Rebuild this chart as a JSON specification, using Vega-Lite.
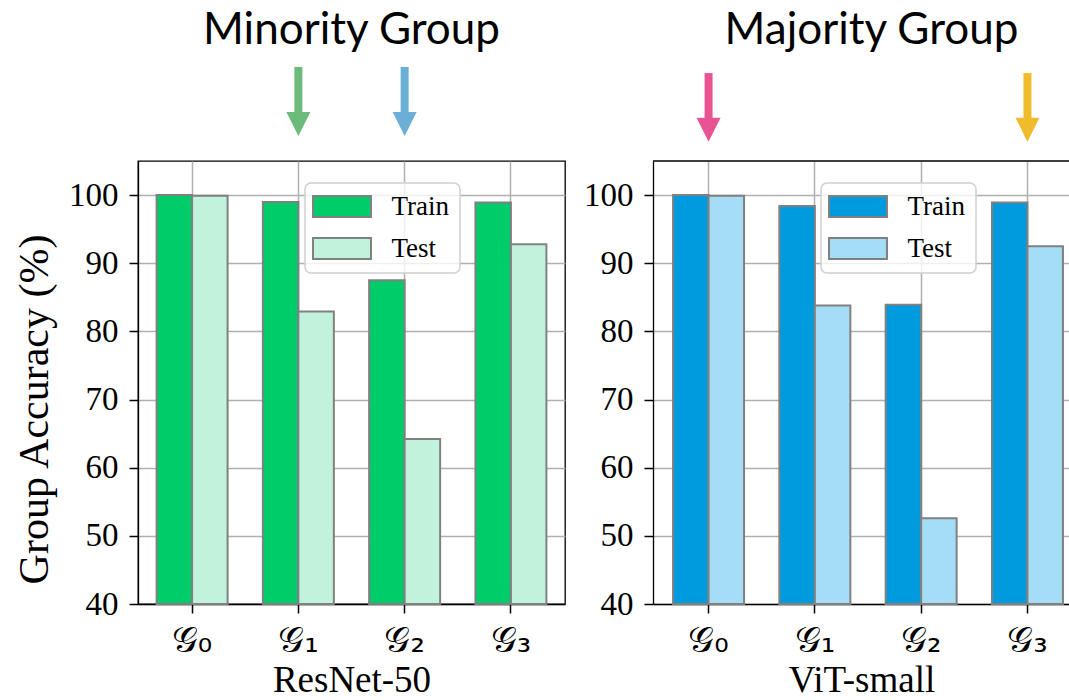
{
  "$schema": "https://vega.github.io/schema/vega-lite/v6.json",
  "background": "white",
  "padding": {"left": 12, "top": 8, "right": 0, "bottom": 0},
  "autosize": {"type": "pad"},
  "bounds": "flush",
  "spacing": 88,
  "config": {
    "font": "Liberation Serif",
    "view": {"stroke": "black", "strokeWidth": 1.3},
    "axis": {
      "labelFont": "Liberation Serif", "labelColor": "black",
      "titleFont": "Liberation Serif", "titleColor": "black", "titleFontWeight": "normal",
      "domainColor": "black", "domainWidth": 1.3,
      "tickColor": "black", "tickWidth": 1.5, "tickSize": 9,
      "gridColor": "#b0b0b0", "gridWidth": 1.5
    },
    "legend": {
      "labelFont": "Liberation Serif", "labelFontSize": 27, "labelColor": "black",
      "labelOffset": 36, "rowPadding": 13, "padding": 10,
      "strokeColor": "#d0d0d0", "strokeWidth": 1.5, "cornerRadius": 6,
      "fillColor": "rgba(255,255,255,0.8)",
      "symbolType": "M-2.76,-1H2.76V1H-2.76Z", "symbolSize": 441, "symbolOffset": 13.5,
      "symbolStrokeColor": "#808080", "symbolStrokeWidth": 2, "symbolOpacity": 1
    },
    "title": {"font": "Lato", "fontSize": 44, "fontWeight": "normal", "color": "black"}
  },
  "resolve": {"scale": {"color": "independent", "x": "independent", "y": "independent"}},
  "datasets": {
    "acc": [
      {"model": "ResNet-50", "group": "𝒢₀", "split": "Train", "value": 100.0},
      {"model": "ResNet-50", "group": "𝒢₀", "split": "Test", "value": 99.9},
      {"model": "ResNet-50", "group": "𝒢₁", "split": "Train", "value": 99.0},
      {"model": "ResNet-50", "group": "𝒢₁", "split": "Test", "value": 82.9},
      {"model": "ResNet-50", "group": "𝒢₂", "split": "Train", "value": 87.5},
      {"model": "ResNet-50", "group": "𝒢₂", "split": "Test", "value": 64.2},
      {"model": "ResNet-50", "group": "𝒢₃", "split": "Train", "value": 98.9},
      {"model": "ResNet-50", "group": "𝒢₃", "split": "Test", "value": 92.8},
      {"model": "ViT-small", "group": "𝒢₀", "split": "Train", "value": 100.0},
      {"model": "ViT-small", "group": "𝒢₀", "split": "Test", "value": 99.9},
      {"model": "ViT-small", "group": "𝒢₁", "split": "Train", "value": 98.4},
      {"model": "ViT-small", "group": "𝒢₁", "split": "Test", "value": 83.8},
      {"model": "ViT-small", "group": "𝒢₂", "split": "Train", "value": 83.9},
      {"model": "ViT-small", "group": "𝒢₂", "split": "Test", "value": 52.6},
      {"model": "ViT-small", "group": "𝒢₃", "split": "Train", "value": 98.9},
      {"model": "ViT-small", "group": "𝒢₃", "split": "Test", "value": 92.5}
    ]
  },
  "hconcat": [
    {
      "width": 427,
      "height": 443,
      "title": {"text": "Minority Group", "frame": "group", "anchor": "middle", "offset": 10},
      "layer": [
        {
          "data": {"name": "acc"},
          "transform": [{"filter": "datum.model === 'ResNet-50'"}],
          "mark": {"type": "bar", "stroke": "#808080", "strokeWidth": 2},
          "encoding": {
            "x": {
              "field": "group", "type": "nominal",
              "scale": {"domain": ["𝒢₀", "𝒢₁", "𝒢₂", "𝒢₃"], "paddingInner": 0.332, "paddingOuter": 0.175},
              "axis": {"title": "ResNet-50", "titleFont": "Liberation Serif", "titleFontSize": 37, "labelFontSize": 36, "labelFont": "DejaVu Sans", "labelAngle": 0, "labelPadding": 10, "titlePadding": 4, "grid": true}
            },
            "xOffset": {"field": "split", "type": "nominal", "scale": {"domain": ["Train", "Test"], "paddingInner": 0, "paddingOuter": 0}},
            "y": {
              "field": "value", "type": "quantitative",
              "scale": {"domain": [40, 105], "nice": false, "zero": false},
              "axis": {"values": [40, 50, 60, 70, 80, 90, 100], "labelFont": "Liberation Serif", "labelFontSize": 33, "labelPadding": 11, "title": "Group Accuracy (%)", "titleFont": "Liberation Serif", "titleFontSize": 42, "titlePadding": 12, "titleY": 248, "grid": true}
            },
            "y2": {"datum": 40},
            "color": {
              "field": "split", "type": "nominal",
              "scale": {"domain": ["Train", "Test"], "range": ["#00cc6a", "#c0f2dc"]},
              "legend": {"title": null, "orient": "none", "legendX": 167, "legendY": 22}
            }
          }
        },
        {
          "data": {"values": [{}]},
          "mark": {"type": "rule", "color": "#6dbb7a", "strokeWidth": 8, "strokeCap": "butt"},
          "encoding": {"x": {"datum": "𝒢₁"}, "y": {"datum": 118.8}, "y2": {"datum": 111.5}}
        },
        {
          "data": {"values": [{}]},
          "mark": {"type": "point", "shape": "M-1,-1L1,-1L0,1Z", "filled": true, "color": "#6dbb7a", "opacity": 1, "size": 576, "strokeWidth": 0},
          "encoding": {"x": {"datum": "𝒢₁"}, "y": {"datum": 110.43}}
        },
        {
          "data": {"values": [{}]},
          "mark": {"type": "rule", "color": "#6baed6", "strokeWidth": 8, "strokeCap": "butt"},
          "encoding": {"x": {"datum": "𝒢₂"}, "y": {"datum": 118.8}, "y2": {"datum": 111.5}}
        },
        {
          "data": {"values": [{}]},
          "mark": {"type": "point", "shape": "M-1,-1L1,-1L0,1Z", "filled": true, "color": "#6baed6", "opacity": 1, "size": 576, "strokeWidth": 0},
          "encoding": {"x": {"datum": "𝒢₂"}, "y": {"datum": 110.43}}
        }
      ]
    },
    {
      "width": 417,
      "height": 443,
      "view": {"stroke": null},
      "title": {"text": "Majority Group", "frame": "group", "anchor": "middle", "offset": 16, "dx": 10},
      "layer": [
        {
          "data": {"name": "acc"},
          "transform": [{"filter": "datum.model === 'ViT-small'"}],
          "mark": {"type": "bar", "stroke": "#808080", "strokeWidth": 2},
          "encoding": {
            "x": {
              "field": "group", "type": "nominal",
              "scale": {"domain": ["𝒢₀", "𝒢₁", "𝒢₂", "𝒢₃"], "paddingInner": 0.332, "paddingOuter": 0.1275, "align": 0.74},
              "axis": {"title": "ViT-small", "titleFont": "Liberation Serif", "titleFontSize": 37, "labelFontSize": 36, "labelFont": "DejaVu Sans", "labelAngle": 0, "labelPadding": 10, "titlePadding": 4, "grid": true}
            },
            "xOffset": {"field": "split", "type": "nominal", "scale": {"domain": ["Train", "Test"], "paddingInner": 0, "paddingOuter": 0}},
            "y": {
              "field": "value", "type": "quantitative",
              "scale": {"domain": [40, 105], "nice": false, "zero": false},
              "axis": {"values": [40, 50, 60, 70, 80, 90, 100], "labelFont": "Liberation Serif", "labelFontSize": 33, "labelPadding": 11, "title": null, "grid": true}
            },
            "y2": {"datum": 40},
            "color": {
              "field": "split", "type": "nominal",
              "scale": {"domain": ["Train", "Test"], "range": ["#009ade", "#a6ddf6"]},
              "legend": {"title": null, "orient": "none", "legendX": 168, "legendY": 22}
            }
          }
        },
        {
          "data": {"values": [{}]},
          "mark": {"type": "rule", "color": "black", "strokeWidth": 1.3},
          "encoding": {"y": {"datum": 105}}
        },
        {
          "data": {"values": [{}]},
          "mark": {"type": "rule", "color": "#e85493", "strokeWidth": 8, "strokeCap": "butt"},
          "encoding": {"x": {"datum": "𝒢₀"}, "y": {"datum": 117.9}, "y2": {"datum": 110.8}}
        },
        {
          "data": {"values": [{}]},
          "mark": {"type": "point", "shape": "M-1,-1L1,-1L0,1Z", "filled": true, "color": "#e85493", "opacity": 1, "size": 576, "strokeWidth": 0},
          "encoding": {"x": {"datum": "𝒢₀"}, "y": {"datum": 109.6}}
        },
        {
          "data": {"values": [{}]},
          "mark": {"type": "rule", "color": "#f0bc2c", "strokeWidth": 8, "strokeCap": "butt"},
          "encoding": {"x": {"datum": "𝒢₃"}, "y": {"datum": 117.9}, "y2": {"datum": 110.8}}
        },
        {
          "data": {"values": [{}]},
          "mark": {"type": "point", "shape": "M-1,-1L1,-1L0,1Z", "filled": true, "color": "#f0bc2c", "opacity": 1, "size": 576, "strokeWidth": 0},
          "encoding": {"x": {"datum": "𝒢₃"}, "y": {"datum": 109.6}}
        }
      ]
    }
  ]
}
